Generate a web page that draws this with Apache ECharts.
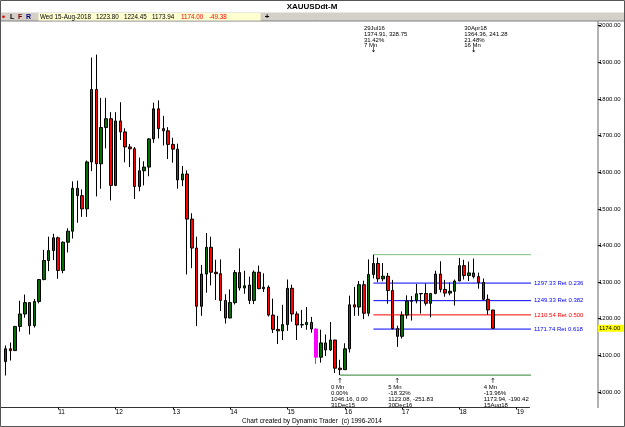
<!DOCTYPE html>
<html>
<head>
<meta charset="utf-8">
<script src="https://cdn.jsdelivr.net/npm/echarts@6/dist/echarts.min.js"></script>
<style>
  html, body { margin: 0; padding: 0; background: #fff; }
  #chart { width: 625px; height: 427px; }
</style>
</head>
<body>
<div id="chart"></div>
<script>
// monthly XAUUSD candles, [open, close, low, high]
const y2010 = [ // Feb..Dec
  [1083, 1118, 1045, 1127], [1118, 1113, 1086, 1135], [1113, 1179, 1113, 1180],
  [1179, 1213, 1165, 1249], [1213, 1244, 1203, 1266], [1244, 1181, 1157, 1245],
  [1181, 1247, 1176, 1254], [1247, 1307, 1242, 1308], [1307, 1359, 1305, 1388],
  [1359, 1386, 1330, 1424], [1386, 1421, 1360, 1432]
];
const y2011 = [
  [1421, 1332, 1309, 1424], [1332, 1409, 1324, 1411], [1409, 1439, 1381, 1447],
  [1439, 1556, 1419, 1575], [1556, 1536, 1462, 1577], [1536, 1500, 1478, 1553],
  [1500, 1628, 1478, 1632], [1628, 1826, 1603, 1913], [1826, 1623, 1534, 1921],
  [1623, 1722, 1555, 1803], [1722, 1746, 1665, 1803], [1746, 1564, 1523, 1764]
];
const y2012 = [
  [1564, 1740, 1562, 1764], [1740, 1710, 1688, 1791], [1710, 1669, 1627, 1720],
  [1669, 1664, 1614, 1677], [1664, 1561, 1527, 1669], [1561, 1604, 1548, 1640],
  [1604, 1614, 1564, 1630], [1614, 1691, 1589, 1693], [1691, 1773, 1680, 1790],
  [1773, 1719, 1692, 1796], [1719, 1713, 1673, 1754], [1713, 1676, 1636, 1723]
];
const y2013 = [
  [1676, 1663, 1626, 1694], [1663, 1579, 1555, 1678], [1579, 1595, 1562, 1617],
  [1595, 1472, 1321, 1605], [1472, 1393, 1338, 1488], [1393, 1234, 1180, 1424],
  [1234, 1322, 1208, 1347], [1322, 1395, 1271, 1434], [1395, 1327, 1291, 1424],
  [1327, 1323, 1251, 1361], [1323, 1250, 1221, 1362], [1250, 1202, 1187, 1267]
];
const y2014 = [
  [1202, 1244, 1202, 1280], [1244, 1326, 1239, 1333], [1326, 1284, 1277, 1392],
  [1284, 1290, 1268, 1331], [1292, 1250, 1240, 1315], [1250, 1327, 1240, 1332],
  [1327, 1282, 1281, 1345], [1282, 1286, 1273, 1324], [1286, 1210, 1206, 1291],
  [1210, 1171, 1161, 1255], [1171, 1167, 1131, 1208], [1167, 1184, 1142, 1238]
];
const y2015 = [
  [1184, 1283, 1167, 1307], [1283, 1213, 1192, 1293], [1213, 1183, 1142, 1220],
  [1183, 1184, 1175, 1224], [1184, 1190, 1170, 1232], [1190, 1172, 1162, 1205],
  [1172, 1095, 1077, 1174], [1095, 1134, 1080, 1170], [1134, 1115, 1098, 1157],
  [1115, 1142, 1112, 1191], [1142, 1065, 1052, 1142], [1065, 1061, 1046.16, 1088]
];
const y2016 = [
  [1061, 1118, 1061, 1133], [1118, 1238, 1108, 1263], [1238, 1232, 1208, 1287],
  [1232, 1293, 1208, 1303], [1293, 1215, 1199, 1304], [1215, 1321, 1207, 1362],
  [1321, 1351, 1310, 1374.91], [1351, 1309, 1300, 1367], [1309, 1316, 1302, 1352],
  [1316, 1277, 1241, 1325], [1277, 1173, 1171, 1306], [1173, 1152, 1123.08, 1181]
];
const y2017 = [
  [1152, 1210, 1146, 1220], [1210, 1248, 1200, 1264], [1248, 1249, 1195, 1262],
  [1249, 1268, 1242, 1295], [1268, 1269, 1214, 1270], [1269, 1242, 1236, 1296],
  [1242, 1269, 1204, 1270], [1269, 1322, 1267, 1331], [1322, 1280, 1272, 1357],
  [1280, 1270, 1260, 1306], [1270, 1275, 1264, 1299], [1275, 1303, 1236, 1307]
];
const y2018 = [ // Jan..Aug
  [1303, 1345, 1303, 1366], [1345, 1318, 1307, 1361], [1318, 1325, 1303, 1356],
  [1325, 1315, 1310, 1364.36], [1315, 1299, 1282, 1326], [1299, 1253, 1250, 1310],
  [1253, 1224, 1211, 1266], [1223.80, 1174.00, 1173.94, 1224.45]
];

const firstMonth = [2010, 2];      // first candle
const monthCount = 124;            // axis runs on past the last candle
const lastYearLabel = 2019;
const highlightMonth = '2015-07';  // candle drawn in magenta

const fibLevels = [1297.33, 1249.33, 1210.54, 1171.74];
const fibRatios = ['0.236', '0.382', '0.500', '0.618'];
const fibColors = ['#0000ff', '#0000ff', '#ff0000', '#0000ff'];
const swingHigh = ['2016-07', 1374.91];
const swingLow = ['2015-12', 1046.16];
const lineEnd = '2019-04';
const lastPrice = 1174.00;

const topNotes = [
  ['2016-07', ['29Jul16', '1374.91, 328.75', '31.42%', '7 Mn']],
  ['2018-04', ['30Apr18', '1364.36, 241.28', '21.48%', '16 Mn']]
];
const bottomNotes = [
  ['2015-12', ['0 Mn', '0.00%', '1046.16, 0.00', '31Dec15']],
  ['2016-12', ['5 Mn', '-18.32%', '1123.08, -251.83', '30Dec16']],
  ['2018-08', ['4 Mn', '-13.96%', '1173.94, -190.42', '15Aug18']]
];
const yTicks = [1000, 1100, 1200, 1300, 1400, 1500, 1600, 1700, 1800, 1900, 2000];

// month categories
const months = [];
for (let i = 0; i < monthCount; i++) {
  const m = firstMonth[1] - 1 + i;
  const yr = firstMonth[0] + Math.floor(m / 12);
  months.push(yr + '-' + String(m % 12 + 1).padStart(2, '0'));
}

const candles = [].concat(y2010, y2011, y2012, y2013, y2014, y2015, y2016, y2017, y2018);
const seriesData = months.map(function (m, i) {
  if (i >= candles.length) return '-';
  if (m === highlightMonth) {
    return { value: candles[i], itemStyle: { color0: '#ff00ff', borderColor0: '#ff00ff', color: '#ff00ff', borderColor: '#ff00ff' } };
  }
  return candles[i];
});

const smallFont = "'Liberation Sans', sans-serif";

// horizontal study lines as small line series
const levelSeries = [];
fibLevels.forEach(function (v, i) {
  levelSeries.push({
    type: 'line', z: 1, silent: true, symbol: 'none', animation: false,
    data: [[swingHigh[0], v], [lineEnd, v]],
    lineStyle: { color: fibColors[i], width: 1 },
    endLabel: { show: true, distance: 3, color: fibColors[i], fontSize: 6, fontFamily: smallFont,
                formatter: v.toFixed(2) + ' Ret ' + fibRatios[i] }
  });
});
levelSeries.push({
  type: 'line', z: 1, silent: true, symbol: 'none', animation: false,
  data: [swingHigh, [lineEnd, swingHigh[1]]],
  lineStyle: { color: '#80c080', width: 1 }
});
levelSeries.push({
  type: 'line', z: 1, silent: true, symbol: 'none', animation: false,
  data: [swingLow, [lineEnd, swingLow[1]]],
  lineStyle: { color: '#2f7f2f', width: 1 }
});

// text annotations anchored on candles
const markPoints = [];
topNotes.forEach(function (n) {
  markPoints.push({ coord: [n[0], 2000], label: { show: true, position: [-9.5, -0.5], align: 'left',
    verticalAlign: 'top', lineHeight: 5.9, formatter: n[1].join('\n') } });
  markPoints.push({ coord: [n[0], 2000], label: { show: true, position: [0, 20.5], align: 'center',
    verticalAlign: 'top', fontSize: 7, fontFamily: 'DejaVu Sans', formatter: '\u2193' } });
});
bottomNotes.forEach(function (n) {
  markPoints.push({ coord: [n[0], 1000], label: { show: true, position: [-9, -7.5], align: 'left',
    verticalAlign: 'top', lineHeight: 5.9, formatter: n[1].join('\n') } });
  markPoints.push({ coord: [n[0], 1000], label: { show: true, position: [0, -14.5], align: 'center',
    verticalAlign: 'top', fontSize: 7, fontFamily: 'DejaVu Sans', formatter: '\u2191' } });
});

const isJan = function (idx, val) {
  return /-01$/.test(val) && +val.slice(0, 4) <= lastYearLabel;
};

const chart = echarts.init(document.getElementById('chart'), null, { renderer: 'canvas' });
chart.setOption({
  backgroundColor: '#fff',
  animation: false,
  grid: { left: 3.3, right: 29.5, top: 21, bottom: 19.5, containLabel: false, outerBoundsMode: 'none' },
  xAxis: {
    type: 'category',
    data: months,
    boundaryGap: true,
    axisLine: { show: false },
    axisTick: { show: true, alignWithLabel: true, interval: isJan, length: 2, lineStyle: { color: '#000' } },
    axisLabel: { interval: isJan, align: 'left', margin: 1.5, fontSize: 6.5, color: '#000',
                 fontFamily: smallFont, formatter: function (v) { return v.slice(2, 4); } },
    splitLine: { show: false }
  },
  yAxis: {
    type: 'value',
    position: 'right',
    offset: 2.5,
    min: 957.7,
    max: 2012.8,
    axisLine: { show: true, lineStyle: { color: '#999', width: 1.5 } },
    axisTick: { show: true, customValues: yTicks, length: 3, lineStyle: { color: '#000' } },
    axisLabel: { customValues: yTicks, margin: 1, fontSize: 6, color: '#000', fontFamily: smallFont,
                 formatter: function (v) { return v.toFixed(2); } },
    splitLine: { show: false }
  },
  series: levelSeries.concat([{
    type: 'candlestick',
    z: 3,
    data: seriesData,
    barWidth: 3,
    itemStyle: { color: '#007000', color0: '#ff0000', borderColor: '#000', borderColor0: '#000', borderWidth: 1 },
    markLine: {
      symbol: 'none', silent: true, animation: false,
      data: [{
        yAxis: lastPrice,
        lineStyle: { color: 'rgba(0,0,0,0)', width: 0 },
        label: { show: true, position: 'end', distance: 2.5, backgroundColor: '#ffff00',
                 padding: [1, 4, 0, 1], color: '#000', fontSize: 6, fontFamily: smallFont,
                 formatter: lastPrice.toFixed(2) }
      }]
    },
    markPoint: {
      symbol: 'circle', symbolSize: 0, silent: true, animation: false,
      label: { color: '#000', fontSize: 6, fontFamily: smallFont },
      data: markPoints
    }
  }]),
  graphic: [
    { type: 'rect', shape: { x: 0.5, y: 0.5, width: 624, height: 426 }, style: { fill: null, stroke: '#555', lineWidth: 1 }, z: 100 },
    { type: 'text', x: 312, y: 7, style: { text: 'XAUUSDdt-M', fill: '#000', font: "bold 8px 'Liberation Sans', sans-serif", textAlign: 'center', textVerticalAlign: 'middle' } },
    { type: 'rect', shape: { x: 0, y: 12.5, width: 625, height: 8.5 }, style: { fill: '#d4d0c8' } },
    { type: 'line', shape: { x1: 0, y1: 21, x2: 625, y2: 21 }, style: { stroke: '#808080', lineWidth: 1 } },
    { type: 'circle', shape: { cx: 3.5, cy: 16.8, r: 1.3 }, style: { fill: '#e00000' } },
    { type: 'text', x: 10, y: 16.8, style: { text: 'L', fill: '#000', font: "bold 7px 'Liberation Sans', sans-serif", textVerticalAlign: 'middle' } },
    { type: 'text', x: 18, y: 16.8, style: { text: 'F', fill: '#800000', font: "bold 7px 'Liberation Sans', sans-serif", textVerticalAlign: 'middle' } },
    { type: 'text', x: 26, y: 16.8, style: { text: 'R', fill: '#000080', font: "bold 7px 'Liberation Sans', sans-serif", textVerticalAlign: 'middle' } },
    { type: 'rect', shape: { x: 38.5, y: 13, width: 222, height: 7.5 }, style: { fill: '#ffffd0' } },
    { type: 'text', x: 40, y: 16.8, style: { text: 'Wed 15-Aug-2018', fill: '#000', font: "6.3px " + smallFont, textVerticalAlign: 'middle' } },
    { type: 'text', x: 96, y: 16.8, style: { text: '1223.80', fill: '#000', font: "6.3px " + smallFont, textVerticalAlign: 'middle' } },
    { type: 'text', x: 124, y: 16.8, style: { text: '1224.45', fill: '#000', font: "6.3px " + smallFont, textVerticalAlign: 'middle' } },
    { type: 'text', x: 152, y: 16.8, style: { text: '1173.94', fill: '#000', font: "6.3px " + smallFont, textVerticalAlign: 'middle' } },
    { type: 'text', x: 181, y: 16.8, style: { text: '1174.00', fill: '#ff0000', font: "6.3px " + smallFont, textVerticalAlign: 'middle' } },
    { type: 'text', x: 209, y: 16.8, style: { text: '-49.38', fill: '#ff0000', font: "6.3px " + smallFont, textVerticalAlign: 'middle' } },
    { type: 'text', x: 267, y: 16.8, style: { text: '+', fill: '#000', font: "bold 8px 'Liberation Sans', sans-serif", textAlign: 'center', textVerticalAlign: 'middle' } },
    { type: 'line', shape: { x1: 0, y1: 407.5, x2: 530, y2: 407.5 }, style: { stroke: '#333', lineWidth: 1 } },
    { type: 'text', x: 312, y: 421, style: { text: 'Chart created by Dynamic Trader  (c) 1996-2014', fill: '#000', font: "6.5px " + smallFont, textAlign: 'center', textVerticalAlign: 'middle' } }
  ]
});
</script>
</body>
</html>
